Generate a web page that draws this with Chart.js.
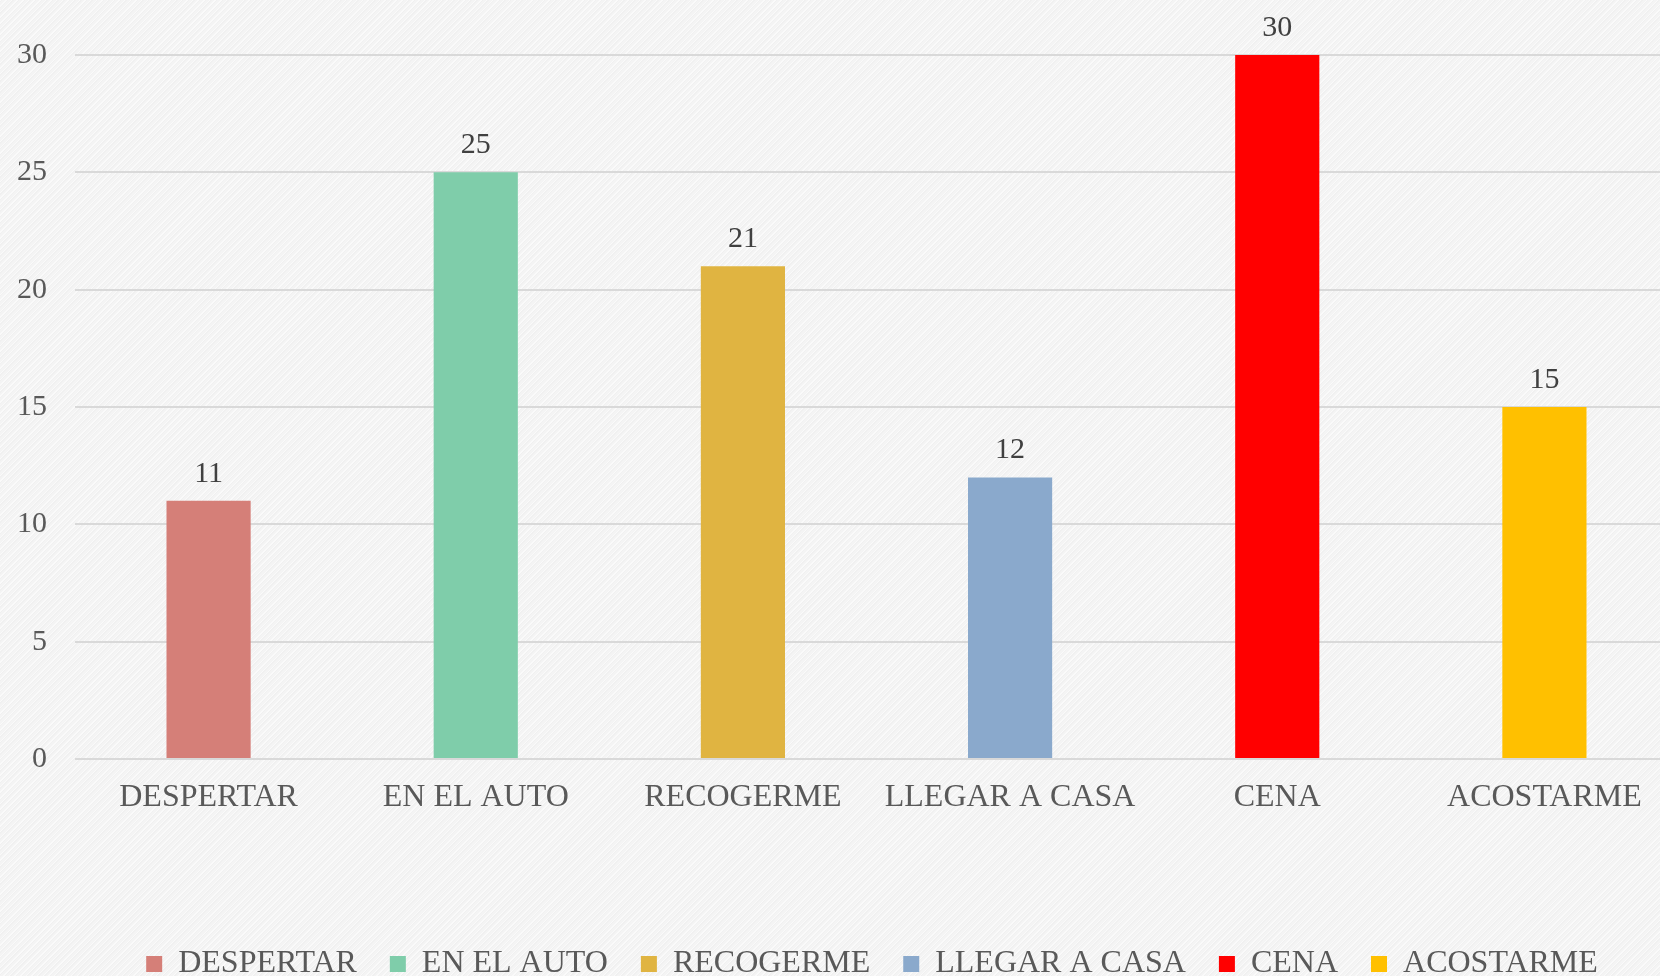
<!DOCTYPE html>
<html>
<head>
<meta charset="utf-8">
<script src="https://cdn.jsdelivr.net/npm/chart.js@4.4.1/dist/chart.umd.min.js"></script>
<style>
  html, body { margin: 0; padding: 0; overflow: hidden; }
  #wrap {
    position: relative; width: 1660px; height: 976px; overflow: hidden;
    background-color: #f4f4f4;
    background-image: repeating-linear-gradient(135deg, rgba(255,255,255,0.55) 0 1px, rgba(230,230,230,0.25) 1px 2px, transparent 2px 4px);
  }
  #chart { position: absolute; left: 0; top: 0; }
</style>
</head>
<body>
<div id="wrap"><canvas id="chart" width="1744" height="990"></canvas></div>
<script>
// Datos del gráfico
const categorias = ['DESPERTAR', 'EN EL AUTO', 'RECOGERME', 'LLEGAR A CASA', 'CENA', 'ACOSTARME'];
const valores = [11, 25, 21, 12, 30, 15];
const colores = ['#d57f78', '#7fcdaa', '#e0b441', '#8aa9cc', '#ff0000', '#ffc000'];
const ticksY = [0, 5, 10, 15, 20, 25, 30];

const fuente = "'Liberation Serif', 'Times New Roman', serif";

// etiquetas encima de cada barra
const etiquetas = {
    id: 'etiquetas',
    afterDatasetsDraw(chart) {
        const ctx = chart.ctx;
        ctx.save();
        ctx.font = '30px ' + fuente;
        ctx.fillStyle = '#404040';
        ctx.textAlign = 'center';
        ctx.textBaseline = 'alphabetic';
        chart.getDatasetMeta(0).data.forEach((bar, i) => {
            ctx.fillText(String(valores[i]), bar.x, bar.y - 19);
        });
        ctx.restore();
    }
};

const ctx = document.getElementById('chart').getContext('2d');
new Chart(ctx, {
    type: 'bar',
    data: {
        labels: categorias,
        datasets: [{
            data: valores,
            backgroundColor: colores,
            categoryPercentage: 1,
            barPercentage: 0.315
        }]
    },
    options: {
        responsive: false,
        animation: false,
        devicePixelRatio: 1,
        layout: { padding: { top: 55, left: 0, right: 0, bottom: 0 } },
        plugins: {
            title: { display: false },
            tooltip: { enabled: false },
            legend: {
                position: 'bottom',
                labels: {
                    boxWidth: 16,
                    boxHeight: 16,
                    padding: 33,
                    color: '#595959',
                    font: { family: fuente, size: 32 },
                    generateLabels: () => categorias.map((c, i) => ({
                        text: c,
                        fillStyle: colores[i],
                        strokeStyle: colores[i],
                        fontColor: '#595959',
                        lineWidth: 0,
                        hidden: false,
                        index: i
                    }))
                }
            }
        },
        scales: {
            x: {
                grid: { display: false },
                border: { display: false },
                ticks: {
                    color: '#595959',
                    font: { family: fuente, size: 32 },
                    padding: 11,
                    maxRotation: 0,
                    autoSkip: false
                },
                afterFit: s => { s.height = 156; }
            },
            y: {
                min: 0,
                max: 30,
                afterBuildTicks: s => { s.ticks = ticksY.map(v => ({ value: v })); },
                grid: { color: '#d9d9d9', lineWidth: 2, drawTicks: false },
                border: { display: false },
                ticks: {
                    color: '#595959',
                    font: { family: fuente, size: 30 },
                    padding: 28
                },
                afterFit: s => { s.width = 75; }
            },
            y2: {
                position: 'right',
                display: true,
                grid: { display: false },
                border: { display: false },
                ticks: { display: false },
                afterFit: s => { s.width = 66; }
            }
        }
    },
    plugins: [etiquetas]
});
</script>
</body>
</html>
